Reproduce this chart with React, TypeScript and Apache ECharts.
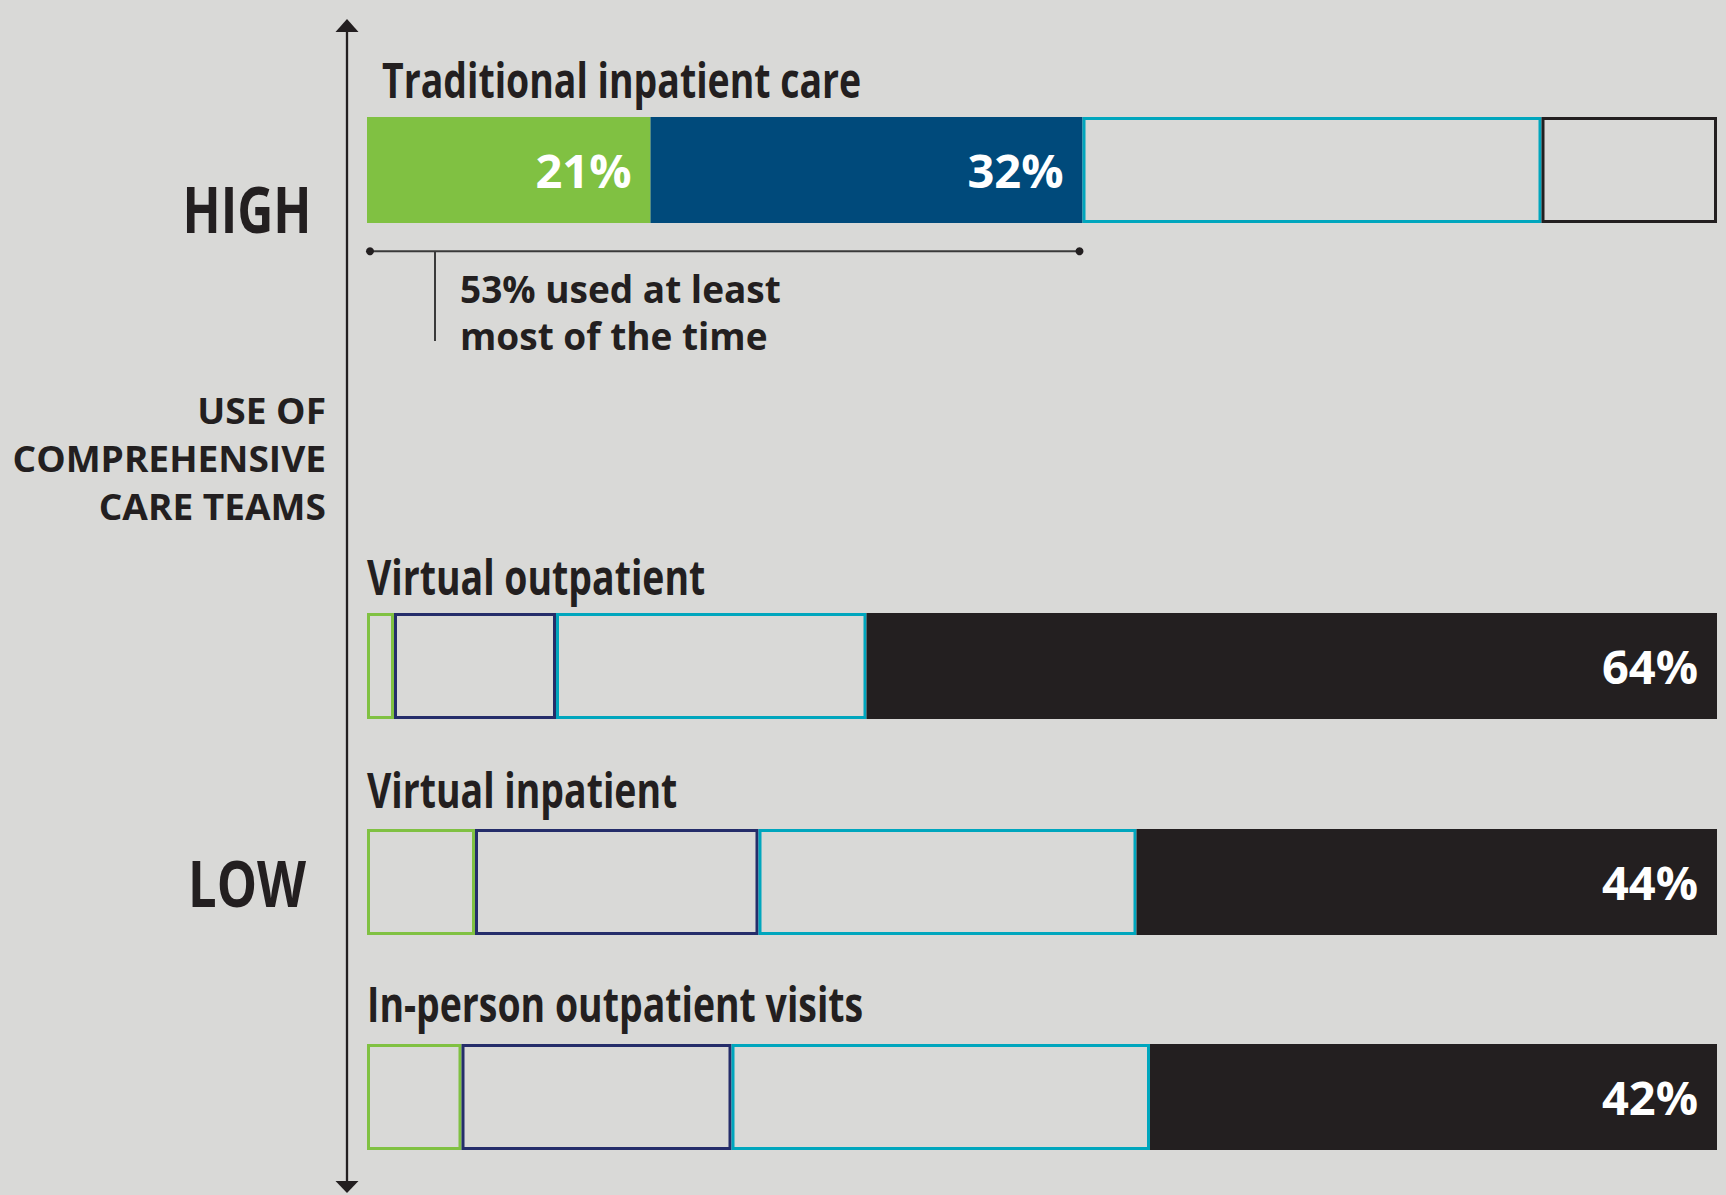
import React, { useEffect, useRef } from "react";
import * as echarts from "echarts";

// ---- data ----
const rowNames = [
  "Traditional inpatient care",
  "Virtual outpatient",
  "Virtual inpatient",
  "In-person outpatient visits",
];
const segmentNames = ["Always", "Most of the time", "Sometimes", "Rarely or never"];
const alwaysValues = [21, 2, 8, 7];
const mostValues = [32, 12, 21, 20];
const sometimesValues = [34, 23, 28, 31];
const rarelyValues = [13, 64, 44, 42];
const axisHighLabel = "HIGH";
const axisLowLabel = "LOW";
const axisTitleLines = ["USE OF", "COMPREHENSIVE", "CARE TEAMS"];
const calloutLines = ["used at least", "most of the time"];
const scaleMax = 100;

// ---- style ----
const BG = "#d9d9d7";
const INK = "#231f20";
const fillColors = ["#80c142", "#004a7b", "#00a6bd", "#231f20"];
const outlineColors = ["#80c142", "#252d6a", "#00a6bd", "#231f20"];
const filledMask = [
  [true, true, false, false],
  [false, false, false, true],
  [false, false, false, true],
  [false, false, false, true],
];
const rowTops = [117, 613, 829, 1044];
const titleX = [382, 367, 367, 367];
const titleMid = [80, 577, 790, 1004];
const BAR_H = 106;
const GRID_LEFT = 367;
const GRID_RIGHT = 9;
const CONDENSE = 0.78;
const FONT = "'Open Sans', 'Noto Sans', sans-serif";

export default function App() {
  const ref = useRef<HTMLDivElement>(null);
  useEffect(() => {
    document.body.style.margin = "0";
    document.body.style.background = BG;
    const chart = echarts.init(ref.current!, null, { renderer: "svg" });
    const values = [alwaysValues, mostValues, sometimesValues, rarelyValues];
    const grids = rowNames.map((_, i) => ({
      left: GRID_LEFT,
      right: GRID_RIGHT,
      top: rowTops[i],
      height: BAR_H,
    }));
    const xAxes = rowNames.map((_, i) => ({
      type: "value" as const,
      gridIndex: i,
      min: 0,
      max: scaleMax,
      show: false,
    }));
    const yAxes = rowNames.map((name, i) => ({
      type: "category" as const,
      gridIndex: i,
      data: [name],
      show: false,
    }));
    const series: any[] = [];
    rowNames.forEach((_, i) => {
      segmentNames.forEach((seg, j) => {
        const filled = filledMask[i][j];
        series.push({
          type: "bar",
          name: seg,
          xAxisIndex: i,
          yAxisIndex: i,
          stack: "row" + i,
          barWidth: BAR_H,
          clip: true,
          data: [
            {
              value: values[j][i],
              itemStyle: filled
                ? { color: fillColors[j], borderWidth: 0 }
                : { color: "rgba(0,0,0,0)", borderColor: outlineColors[j], borderWidth: 3 },
              label: {
                show: filled,
                position: "insideRight",
                distance: 19,
                formatter: "{c}%",
                color: "#ffffff",
                fontFamily: FONT,
                fontWeight: "bold",
                fontSize: 47,
              },
            },
          ],
        });
      });
    });

    chart.setOption({
      animation: false,
      backgroundColor: BG,
      grid: grids,
      xAxis: xAxes,
      yAxis: yAxes,
      series,
    });

    const x0 = chart.convertToPixel({ xAxisIndex: 0 }, 0) as number;
    const topShare = alwaysValues[0] + mostValues[0];
    const x1 = chart.convertToPixel({ xAxisIndex: 0 }, topShare) as number;
    const bracketY = 251.3;

    const condensedText = (text: string, x: number, y: number, size: number, align: string) => ({
      type: "text",
      x,
      y,
      scaleX: CONDENSE,
      style: {
        text,
        fill: INK,
        font: `bold ${size}px ${FONT}`,
        textAlign: align,
        textVerticalAlign: "middle",
      },
    });

    const graphic: any[] = [
      // vertical axis
      { type: "line", shape: { x1: 347, y1: 30, x2: 347, y2: 1182 }, style: { stroke: INK, lineWidth: 2.3 } },
      { type: "polygon", shape: { points: [[347, 19], [335.5, 32], [358.5, 32]] }, style: { fill: INK } },
      { type: "polygon", shape: { points: [[335.5, 1181], [358.5, 1181], [347, 1193]] }, style: { fill: INK } },
      condensedText(axisHighLabel, 247, 208, 64, "center"),
      condensedText(axisLowLabel, 247, 882, 65, "center"),
      ...axisTitleLines.map((t, k) => ({
        type: "text",
        x: 326,
        y: 410 + k * 48,
        scaleX: 1.06,
        style: { text: t, fill: INK, font: `bold 35px ${FONT}`, textAlign: "right", textVerticalAlign: "middle" },
      })),
      ...rowNames.map((t, i) => condensedText(t, titleX[i], titleMid[i], 48, "left")),
      // bracket
      { type: "line", shape: { x1: x0 + 3, y1: bracketY, x2: x1 - 3, y2: bracketY }, style: { stroke: "#3a3a3a", lineWidth: 2 } },
      { type: "circle", shape: { cx: x0 + 3, cy: bracketY, r: 4 }, style: { fill: INK } },
      { type: "circle", shape: { cx: x1 - 3, cy: bracketY, r: 4 }, style: { fill: INK } },
      { type: "line", shape: { x1: x0 + 68, y1: bracketY, x2: x0 + 68, y2: 341 }, style: { stroke: "#3a3a3a", lineWidth: 2 } },
      {
        type: "text",
        x: 460,
        y: 288,
        style: { text: `${topShare}% ${calloutLines[0]}`, fill: INK, font: `bold 37px ${FONT}`, textAlign: "left", textVerticalAlign: "middle" },
      },
      {
        type: "text",
        x: 460,
        y: 335,
        style: { text: calloutLines[1], fill: INK, font: `bold 37px ${FONT}`, textAlign: "left", textVerticalAlign: "middle" },
      },
    ];
    chart.setOption({ graphic });

    return () => chart.dispose();
  }, []);
  return <div ref={ref} style={{ width: 1726, height: 1195, background: BG }} />;
}
